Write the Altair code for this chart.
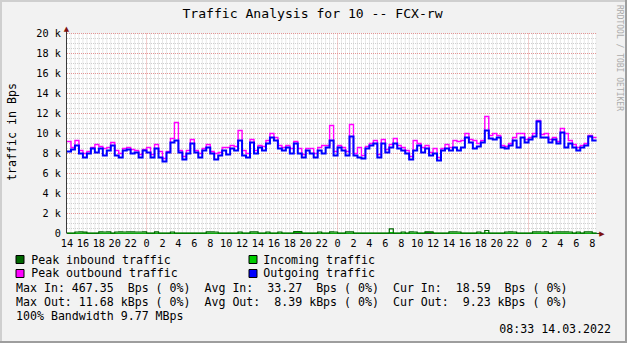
import altair as alt
import pandas as pd
import numpy as np

MONO = "DejaVu Sans Mono"
W, H = 530, 200          # plot area
LEFT, TOP = 67, 33.5     # plot origin in the page
T_END = 66.6             # hours shown (start 11.03 14:00)
NB = "\u00a0"

# ---- data: 30-minute bins, hours since 11.03.2022 14:00 ----
out_k = [8.2, 8.4, 8.8, 8.0, 7.6, 8.0, 8.5, 8.1, 8.5, 7.8, 8.3, 8.8, 7.8, 7.6, 8.3, 8.4, 8.0, 8.1, 7.6, 8.3,
         8.1, 7.6, 8.5, 7.6, 7.2, 8.1, 9.1, 9.3, 8.1, 7.4, 8.0, 9.0, 8.1,
         7.6, 8.3, 8.6, 8.0, 7.4, 7.8, 8.3, 7.9, 8.5, 8.3, 9.3, 7.8, 7.6, 9.1, 8.0, 8.6, 8.3, 9.0,
         9.6, 9.3, 8.5, 8.3, 8.6, 8.0, 9.0, 8.0, 7.6, 8.3, 8.0, 7.6, 8.3, 8.0, 8.6,
         9.3, 7.8, 8.6, 8.3, 7.8, 9.7, 7.8, 7.6, 7.5, 8.5, 8.8, 9.0, 7.6, 9.0, 8.1, 8.6, 9.0,
         8.5, 8.3, 8.0, 7.4, 8.3, 8.8, 8.1, 8.5, 7.8, 8.0, 7.3, 8.3, 8.5, 8.3, 8.6, 8.3, 8.6,
         9.6, 9.1, 8.5, 8.7, 9.1, 10.3, 9.5, 9.4, 9.6, 8.6, 8.5, 8.8, 9.3, 8.6, 9.6, 9.1, 9.4,
         9.7, 11.2, 9.6, 9.6, 9.1, 9.4, 9.0, 10.1, 8.6, 9.0, 8.6, 8.3, 8.6, 8.8, 9.7, 9.3]
peak_out_k = [9.2, 8.6, 9.3, 8.3, 8.0, 8.2, 8.6, 8.9, 8.7, 8.5, 8.6, 9.1, 8.3, 8.0, 8.5, 8.6, 8.4, 8.3, 7.9, 8.4,
              8.6, 7.9, 8.9, 8.2, 7.5, 8.2, 9.5, 11.1, 8.3, 7.7, 8.3, 9.4, 8.3,
              8.0, 8.5, 8.9, 8.2, 8.0, 8.1, 8.6, 8.6, 8.8, 8.7, 10.3, 8.3, 8.0, 9.4, 8.3, 8.8, 8.7, 9.3,
              10.0, 9.6, 8.8, 8.6, 8.8, 8.5, 9.2, 8.5, 7.9, 8.5, 8.5, 8.0, 8.6, 8.8, 8.8,
              10.8, 8.2, 8.8, 8.6, 8.2, 10.9, 8.0, 8.6, 7.8, 8.7, 9.0, 9.3, 7.9, 9.4, 8.4, 8.9, 9.5,
              8.8, 8.6, 8.3, 7.7, 9.3, 9.0, 8.6, 8.8, 8.1, 8.5, 7.6, 8.5, 8.9, 8.6, 9.3, 9.2, 9.3,
              10.0, 9.4, 9.3, 9.0, 9.3, 11.7, 9.8, 10.0, 9.8, 8.8, 8.7, 9.0, 9.6, 10.0, 10.0, 9.4, 9.6,
              10.0, 11.3, 9.9, 10.0, 9.4, 9.6, 9.2, 10.5, 10.0, 9.3, 8.9, 8.6, 8.8, 9.0, 9.8, 9.6]
peak_in_bps = [40, 35, 150, 160, 140, 40, 30, 45, 160, 150, 170, 40, 150, 160, 150, 170, 160, 150, 150, 160,
               40, 35, 170, 40, 30, 45, 150, 40, 35, 40, 30, 45, 40,
               35, 40, 160, 170, 150, 40, 30, 45, 40, 35, 150, 40, 30, 160, 170, 40, 35, 150,
               40, 30, 150, 40, 35, 40, 190, 180, 40, 30, 45, 35, 150, 40, 30,
               160, 150, 40, 35, 170, 160, 40, 30, 45, 35, 40, 30, 45, 40, 35, 467, 40,
               30, 150, 40, 160, 150, 35, 40, 170, 160, 40, 30, 45, 35, 160, 170, 150, 40,
               35, 40, 30, 150, 40, 300, 40, 35, 40, 30, 150, 160, 150, 40, 35, 40, 30,
               160, 170, 150, 160, 40, 150, 160, 170, 160, 150, 40, 150, 35, 160, 170, 40]
in_bps = [25, 20, 30, 35, 30, 22, 18, 25, 35, 30, 32, 20, 30, 35, 30, 32, 30, 28, 30, 32,
          20, 18, 30, 22, 18, 25, 30, 22, 20, 22, 18, 25, 20,
          18, 22, 30, 32, 30, 22, 18, 25, 22, 20, 30, 22, 18, 30, 32, 22, 20, 30,
          22, 18, 30, 22, 20, 22, 120, 110, 22, 18, 25, 20, 30, 22, 18,
          30, 30, 22, 20, 32, 30, 22, 18, 25, 20, 22, 18, 25, 22, 20, 90, 22,
          18, 30, 22, 30, 30, 20, 22, 110, 100, 22, 18, 25, 20, 30, 32, 30, 22,
          20, 22, 18, 30, 22, 60, 22, 20, 22, 18, 30, 30, 30, 22, 20, 22, 18,
          30, 32, 30, 30, 22, 30, 30, 32, 30, 30, 22, 30, 20, 30, 32, 19]

# tick positions (hours since start) and their labels
x_tick_hours = list(range(0, 67, 2))
x_tick_labels = ["14", "16", "18", "20", "22", " 0", " 2", " 4", " 6", " 8", "10", "12",
                 "14", "16", "18", "20", "22", " 0", " 2", " 4", " 6", " 8", "10", "12",
                 "14", "16", "18", "20", "22", " 0", " 2", " 4", " 6", " 8"]
y_tick_values = list(range(0, 20001, 2000))
y_tick_labels = ["0  ", "2 k", "4 k", "6 k", "8 k", "10 k", "12 k", "14 k", "16 k", "18 k", "20 k"]

legend_items = [("Peak inbound traffic", "#006600"), ("Incoming traffic", "#00CC00"),
                ("Peak outbound traffic", "#FF00FF"), ("Outgoing traffic", "#0000FF")]
stat_lines = [
    "Max In: 467.35  Bps ( 0%)  Avg In:  33.27  Bps ( 0%)  Cur In:  18.59  Bps ( 0%)",
    "Max Out: 11.68 kBps ( 0%)  Avg Out:  8.39 kBps ( 0%)  Cur Out:  9.23 kBps ( 0%)",
    "100% Bandwidth 9.77 MBps",
]
title_text = "Traffic Analysis for 10 -- FCX-rw"
y_title = "traffic in Bps"
stamp = "08:33 14.03.2022"
watermark = "RRDTOOL / TOBI OETIKER"

# ---- tables ----
n = len(out_k)
t_pts = [i * 0.5 for i in range(n)] + [66.55]
def ext(a):
    return list(a) + [a[-1]]
df = pd.DataFrame({
    "t": t_pts,
    "out": [v * 1000 for v in ext(out_k)],
    "pout": [v * 1000 for v in ext(peak_out_k)],
    "pin": ext(peak_in_bps),
    "inc": ext(in_bps),
})
xt = pd.DataFrame({"t": x_tick_hours, "lab": [s.replace(" ", NB) for s in x_tick_labels]})
yt = pd.DataFrame({"v": y_tick_values, "lab": [s.replace(" ", NB) for s in y_tick_labels]})

xs = alt.Scale(domain=[0, T_END], nice=False, zero=False)
ys = alt.Scale(domain=[0, 20000], nice=False)

one = pd.DataFrame({"k": [0]})

minor_t = [float(v) for v in np.arange(0.5, T_END, 0.5) if v not in (10, 34, 58)]
major_t = [10, 34, 58]
minor_v = [v for v in range(500, 20001, 500) if v % 2000 != 0]
major_v = list(range(2000, 20001, 2000))

GRID = "#CFCFCF"
MGRID = "#E39595"
vminor = alt.Chart(pd.DataFrame({"t": minor_t})).mark_rule(color=GRID, strokeDash=[1, 1], strokeWidth=1).encode(
    x=alt.X("t:Q", scale=xs, axis=None), y=alt.value(0), y2=alt.value(H))
hminor = alt.Chart(pd.DataFrame({"v": minor_v})).mark_rule(color=GRID, strokeDash=[1, 1], strokeWidth=1).encode(
    y=alt.Y("v:Q", scale=ys, axis=None), x=alt.value(0), x2=alt.value(W))
vmajor = alt.Chart(pd.DataFrame({"t": major_t})).mark_rule(color=MGRID, strokeDash=[1, 1], strokeWidth=1).encode(
    x=alt.X("t:Q", scale=xs, axis=None), y=alt.value(0), y2=alt.value(H))
hmajor = alt.Chart(pd.DataFrame({"v": major_v})).mark_rule(color=MGRID, strokeDash=[1, 1], strokeWidth=1).encode(
    y=alt.Y("v:Q", scale=ys, axis=None), x=alt.value(0), x2=alt.value(W))

xlabels = alt.Chart(xt).mark_text(font=MONO, fontSize=10.2, align="center", baseline="alphabetic", color="black").encode(
    x=alt.X("t:Q", scale=xs, axis=None), y=alt.value(246.7 - TOP), text="lab:N")
ylabels = alt.Chart(yt).mark_text(font=MONO, fontSize=10.2, align="right", baseline="middle", color="black").encode(
    y=alt.Y("v:Q", scale=ys, axis=None), x=alt.value(60.8 - LEFT), text="lab:N")

AX = "#3A3A3A"
yline = alt.Chart(one).mark_rule(color=AX, strokeWidth=1).encode(
    x=alt.value(-0.5), y=alt.value(-3), y2=alt.value(H))
xline = alt.Chart(one).mark_rule(color=AX, strokeWidth=1).encode(
    x=alt.value(0), x2=alt.value(W + 3), y=alt.value(H))
arrow_up = alt.Chart(one).mark_text(text="\u25b2", font="DejaVu Sans", fontSize=7, color="#7F1010",
                                    align="center", baseline="middle").encode(x=alt.value(-0.5), y=alt.value(-4.5))
arrow_right = alt.Chart(one).mark_text(text="\u25b6", font="DejaVu Sans", fontSize=7, color="#7F1010",
                                       align="center", baseline="middle").encode(x=alt.value(W + 5), y=alt.value(H))

def line(col, color, sw):
    return alt.Chart(df).mark_line(interpolate="step-after", color=color, strokeWidth=sw).encode(
        x=alt.X("t:Q", scale=xs, axis=None), y=alt.Y(col + ":Q", scale=ys, axis=None))

l_inc = line("inc", "#00CC00", 1.2)
l_pin = line("pin", "#006600", 1.2)
l_pout = line("pout", "#FF00FF", 1.4)
l_out = line("out", "#0000FF", 2)

def txt(s, x, y, size=11.6, align="left", baseline="alphabetic", angle=0, color="black"):
    return alt.Chart(one).mark_text(text=s.replace(" ", NB), font=MONO, fontSize=size, align=align,
                                    baseline=baseline, angle=angle, color=color).encode(
        x=alt.value(x - LEFT), y=alt.value(y - TOP))

def box(x, y, color):
    return alt.Chart(one).mark_rect(fill=color, stroke="black", strokeWidth=1).encode(
        x=alt.value(x - LEFT), x2=alt.value(x + 8 - LEFT), y=alt.value(y - TOP), y2=alt.value(y + 8 - TOP))

def edge(x1, y1, x2, y2, color):
    return alt.Chart(one).mark_rule(color=color, strokeWidth=2).encode(
        x=alt.value(x1 - LEFT), x2=alt.value(x2 - LEFT), y=alt.value(y1 - TOP), y2=alt.value(y2 - TOP))

layers = [
    edge(0, 1, 627, 1, "#CFCFCF"), edge(1, 0, 1, 343, "#CFCFCF"),
    edge(0, 342, 627, 342, "#9E9E9E"), edge(626, 0, 626, 343, "#9E9E9E"),
    vminor, hminor, vmajor, hmajor, yline, xline,
    l_inc, l_pin, l_pout, l_out, arrow_up, arrow_right, xlabels, ylabels,
    txt(title_text, 312.5, 18, size=13.1, align="center"),
    txt(y_title, 12.5, 132, align="center", baseline="middle", angle=270),
    txt(watermark, 618.5, 5, size=8, baseline="middle", angle=90, color="#ABABAB"),
]
pos = [(16, 255.5, 31.2, 263.5), (249, 255.5, 263.2, 263.5), (16, 269.5, 31.2, 277.3), (249, 269.5, 263.2, 277.3)]
for (label, color), (bx, by, tx, ty) in zip(legend_items, pos):
    layers.append(box(bx, by, color))
    layers.append(txt(label, tx, ty))
for s, yy in zip(stat_lines, [291.7, 305.7, 319.7]):
    layers.append(txt(s, 16, yy))
layers.append(txt(stamp, 611, 333.2, align="right"))

chart = alt.layer(*layers).properties(
    width=W, height=H,
    padding={"left": LEFT, "top": TOP, "right": 627 - LEFT - W, "bottom": 343 - TOP - H},
    autosize=alt.AutoSizeParams(type="none"),
    background="#F2F2F2",
).configure_view(fill="white", strokeWidth=0)

chart.save("out.html", embed_options={"renderer": "svg", "actions": False})
